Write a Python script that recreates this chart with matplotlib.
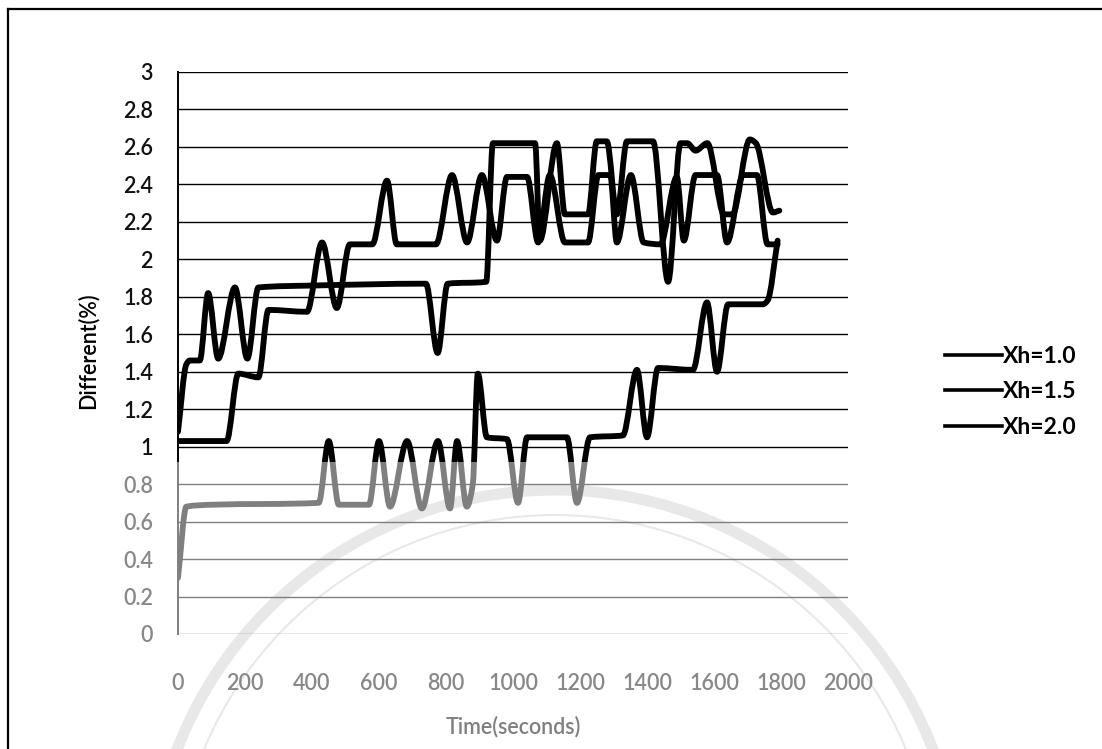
import numpy as np
import matplotlib
matplotlib.use("Agg")
import matplotlib.pyplot as plt
from matplotlib.path import Path
from matplotlib.patches import PathPatch, Rectangle, Circle
from matplotlib.lines import Line2D

# Time (s) and difference (%) for each winding setting
t_xh10 = [0, 25, 100, 420, 450, 480, 570, 600, 633, 684, 728, 776, 812, 833, 862,
          880, 895, 922, 982, 1015, 1042, 1161, 1191, 1230, 1328, 1370, 1400, 1433,
          1537, 1579, 1609, 1642, 1746, 1760, 1790]
v_xh10 = [0.30, 0.68, 0.69, 0.70, 1.03, 0.69, 0.69, 1.03, 0.68, 1.03, 0.67, 1.03, 0.67, 1.03, 0.68,
          0.80, 1.39, 1.05, 1.04, 0.70, 1.05, 1.05, 0.70, 1.05, 1.06, 1.41, 1.05, 1.42,
          1.41, 1.77, 1.40, 1.76, 1.76, 1.78, 2.10]

t_xh15 = [0, 145, 180, 240, 270, 385, 430, 474, 513, 580, 624, 653, 770, 818, 863,
          907, 952, 982, 1042, 1075, 1110, 1155, 1224, 1255, 1290, 1310, 1352,
          1390, 1440, 1489, 1510, 1545, 1609, 1639, 1687, 1728, 1760, 1790]
v_xh15 = [1.03, 1.03, 1.39, 1.37, 1.73, 1.72, 2.09, 1.74, 2.08, 2.08, 2.42, 2.08, 2.08, 2.45, 2.09,
          2.45, 2.10, 2.44, 2.44, 2.09, 2.45, 2.09, 2.09, 2.45, 2.45, 2.09, 2.45,
          2.09, 2.08, 2.44, 2.10, 2.45, 2.45, 2.09, 2.45, 2.45, 2.08, 2.08]

t_xh20 = [0, 25, 35, 65, 90, 120, 170, 207, 240, 400, 740, 775, 805, 920, 940,
          1066, 1080, 1131, 1155, 1224, 1250, 1280, 1310, 1340, 1418, 1463, 1500,
          1520, 1545, 1580, 1630, 1655, 1707, 1725, 1776, 1795]
v_xh20 = [1.08, 1.44, 1.46, 1.46, 1.82, 1.47, 1.85, 1.47, 1.85, 1.86, 1.87, 1.50, 1.87, 1.88, 2.62,
          2.62, 2.10, 2.62, 2.24, 2.24, 2.63, 2.63, 2.24, 2.63, 2.63, 1.88, 2.62,
          2.62, 2.58, 2.62, 2.24, 2.24, 2.64, 2.62, 2.25, 2.26]

labels = ["Xh=1.0", "Xh=1.5", "Xh=2.0"]
x_ticks = list(range(0, 2001, 200))
y_ticks = [round(0.2 * i, 1) for i in range(16)]
y_ticklabels = ["0", "0.2", "0.4", "0.6", "0.8", "1", "1.2", "1.4", "1.6", "1.8",
                "2", "2.2", "2.4", "2.6", "2.8", "3"]

W, H = 1102, 749
plt.rcParams["font.family"] = ["Lato", "DejaVu Sans"]

fig = plt.figure(figsize=(W / 100, H / 100), dpi=100)

# page layer behind the chart (pixel coordinates): faint seal rings
ax_bg = fig.add_axes([0, 0, 1, 1], zorder=-1)
ax_bg.set_xlim(0, W)
ax_bg.set_ylim(H, 0)
ax_bg.axis("off")
for r, lw in [(405, 8), (380, 1.5)]:
    ax_bg.add_patch(Circle((555, 895), r, fill=False, edgecolor="#d2d2d2", lw=lw))

ax = fig.add_axes([178 / W, 1 - 634 / H, 670 / W, 562 / H])
ax.patch.set_alpha(0)


def smooth_path(xs, ys):
    """Monotone cubic (Fritsch-Carlson) curve through the points, as Bezier segments."""
    x = np.asarray(xs, float)
    y = np.asarray(ys, float)
    h = np.diff(x)
    d = np.diff(y) / h
    n = len(x)
    m = np.zeros(n)
    m[0], m[-1] = d[0], d[-1]
    for k in range(1, n - 1):
        if d[k - 1] * d[k] > 0:
            w1 = 2 * h[k] + h[k - 1]
            w2 = h[k] + 2 * h[k - 1]
            m[k] = (w1 + w2) / (w1 / d[k - 1] + w2 / d[k])
    verts = [(x[0], y[0])]
    codes = [Path.MOVETO]
    for k in range(n - 1):
        verts += [(x[k] + h[k] / 3, y[k] + m[k] * h[k] / 3),
                  (x[k + 1] - h[k] / 3, y[k + 1] - m[k + 1] * h[k] / 3),
                  (x[k + 1], y[k + 1])]
        codes += [Path.CURVE4] * 3
    return Path(verts, codes)


for xs, ys in [(t_xh10, v_xh10), (t_xh15, v_xh15), (t_xh20, v_xh20)]:
    ax.add_patch(PathPatch(smooth_path(xs, ys), fill=False, edgecolor="black",
                           lw=4.2, capstyle="round", joinstyle="round", zorder=3))

ax.set_xlim(0, 2000)
ax.set_ylim(0, 3)
ax.set_xticks(x_ticks)
ax.set_yticks(y_ticks)
ax.set_yticklabels(y_ticklabels)
ax.tick_params(length=0, labelsize=15.5, colors="#111111")
for lab in ax.get_xticklabels() + ax.get_yticklabels():
    lab.set_fontweight("semibold")
ax.tick_params(axis="y", pad=18)
ax.tick_params(axis="x", pad=28)
ax.grid(axis="y", color="black", lw=1.0)
ax.set_axisbelow(True)
for side in ["top", "right", "bottom"]:
    ax.spines[side].set_visible(False)
ax.spines["left"].set_linewidth(1.4)

ax.set_xlabel("Time(seconds)", fontsize=15.5, fontweight="semibold")
ax.set_ylabel("Different(%)", fontsize=15.5, fontweight="semibold")
ax.xaxis.set_label_coords(0.5, -0.146)
ax.yaxis.set_label_coords(-0.119, 0.505)

handles = [Line2D([], [], color="black", lw=2.6) for _ in labels]
fig.legend(handles, labels, loc="center left", bbox_to_anchor=(945 / W, 1 - 392 / H),
           frameon=False, prop={"size": 16.5, "weight": "bold"}, handlelength=2.5,
           handletextpad=0.05, labelspacing=0.65, borderpad=0, borderaxespad=0)

# front layer: lighter lower part of the page and the page frame
ax_fg = fig.add_axes([0, 0, 1, 1], zorder=10)
ax_fg.set_xlim(0, W)
ax_fg.set_ylim(H, 0)
ax_fg.axis("off")
ax_fg.patch.set_alpha(0)
ax_fg.add_patch(Rectangle((20, 462), W, H, facecolor="white", alpha=0.5, edgecolor="none"))
ax_fg.plot([8, 8], [H, 9], color="black", lw=1.6)
ax_fg.plot([8, W], [9, 9], color="black", lw=1.6)

fig.savefig("out.png", dpi=100)
